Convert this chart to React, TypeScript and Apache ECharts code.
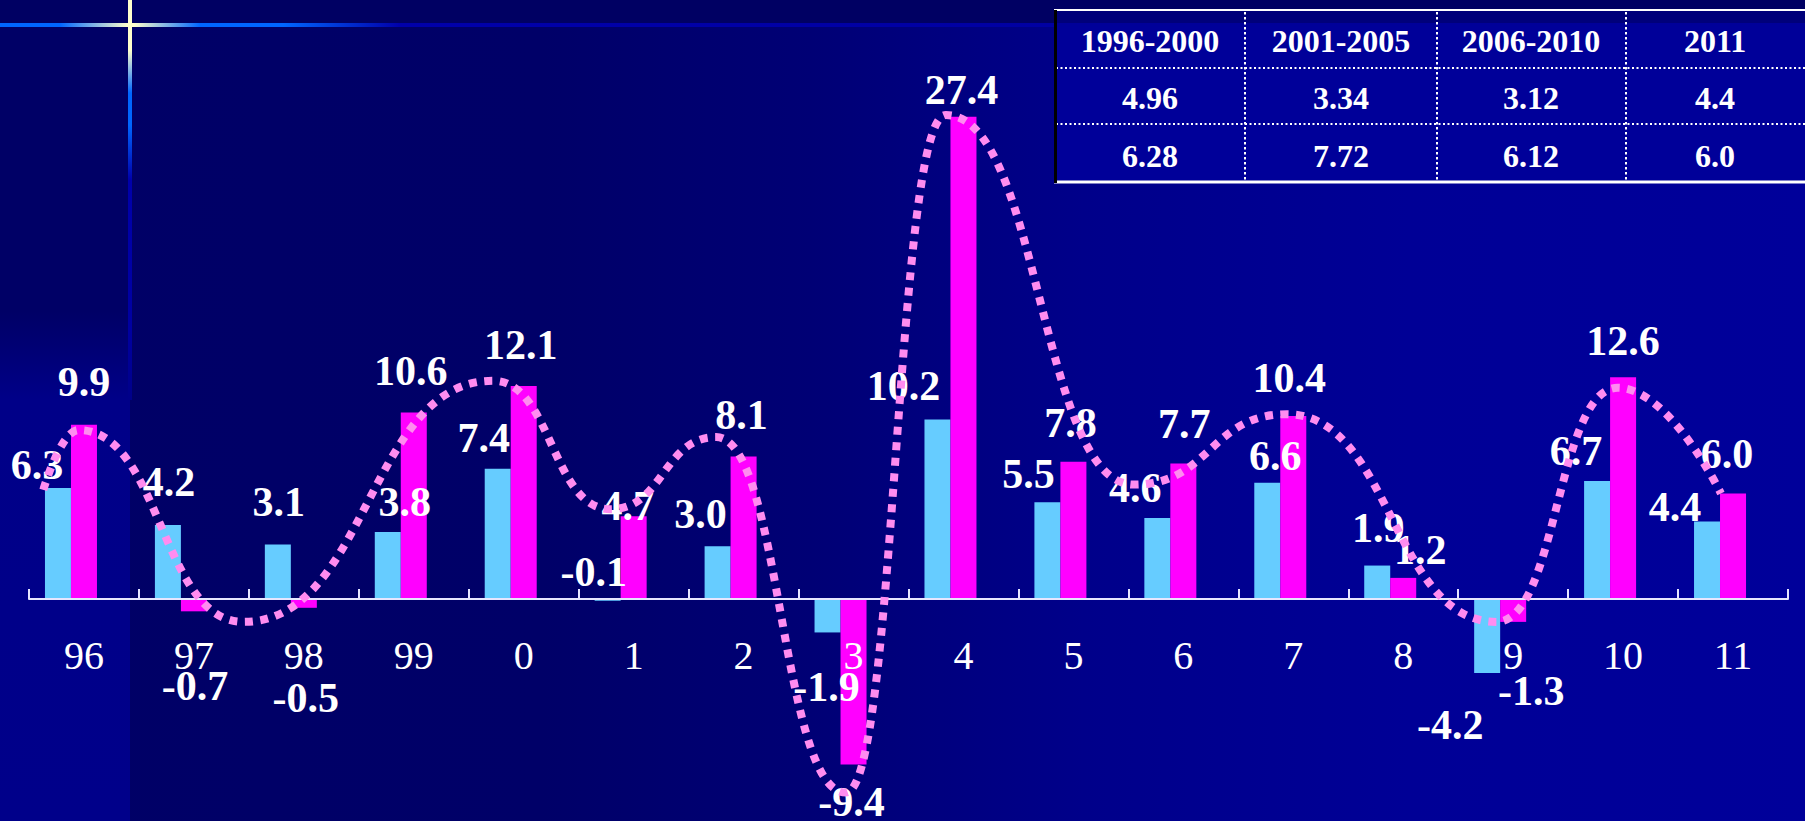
import { useEffect, useRef } from 'react';
import * as echarts from 'echarts';

// Years on the category axis
const years = ['96', '97', '98', '99', '0', '1', '2', '3', '4', '5', '6', '7', '8', '9', '10', '11'];
// Light-blue bars
const blueValues = [6.3, 4.2, 3.1, 3.8, 7.4, -0.1, 3.0, -1.9, 10.2, 5.5, 4.6, 6.6, 1.9, -4.2, 6.7, 4.4];
// Magenta bars
const pinkValues = [9.9, -0.7, -0.5, 10.6, 12.1, 4.7, 8.1, -9.4, 27.4, 7.8, 7.7, 10.4, 1.2, -1.3, 12.6, 6.0];
// Dotted trend curve: [position along the year axis, value] at its turning points
const trendPoints = [
  [-0.37, 6.2], [-0.05, 9.6], [1.45, -1.3], [3.72, 12.4], [4.79, 5.1], [5.75, 9.2],
  [6.93, -11.0], [7.84, 27.5], [9.55, 6.5], [10.94, 10.5], [12.85, -1.3], [13.95, 12.0], [14.89, 6.0],
];
// Period averages table
const periodHeaders = ['1996-2000', '2001-2005', '2006-2010', '2011'];
const periodBlue = ['4.96', '3.34', '3.12', '4.4'];
const periodPink = ['6.28', '7.72', '6.12', '6.0'];

// Hand-placed nudges for the value labels, in pixels [dx, dy]
const blueLabelShift = [
  [-21, 3], [1, -17], [1, -16], [17, -4], [-14, -5], [-14, -55], [-17, -6], [-1, 29],
  [-34, -7], [-19, -2], [-22, -4], [8, -1], [1, -12], [-37, 26], [-21, -4], [-32, 11],
];
const pinkLabelShift = [
  [0, -17], [1, 49], [2, 64], [-3, -15], [-3, -15], [-6, 16], [-2, -15], [-2, 12],
  [-2, -1], [-3, -13], [1, -13], [-4, -12], [17, -2], [18, 43], [0, -10], [-6, -13],
];

const W = 1805;
const H = 821;
const SERIF = "'Liberation Serif', 'Times New Roman', Times, serif";

// Plot frame
const GRID_TOP = 71;
const GRID_BOTTOM = 10.8;
const Y_MIN = -12;
const Y_MAX = 30;
// Where the zero line sits, so the year axis can be lifted onto it
const zeroY = GRID_TOP + (Y_MAX / (Y_MAX - Y_MIN)) * (H - GRID_TOP - GRID_BOTTOM);
const axisLift = zeroY - (H - GRID_BOTTOM);

function barData(values: number[], shifts: number[][]) {
  return values.map((v, i) => ({
    value: v,
    label: { position: v >= 0 ? 'top' : 'bottom', offset: shifts[i] },
  }));
}

function tableGraphics() {
  const left = 1054;
  const top = 10;
  const bottom = 182;
  const rowLines = [68, 124];
  const colLines = [1245, 1437, 1626];
  const colCenters = [1150, 1341, 1531, 1715];
  const rowCenters = [41, 98, 156];
  const els: any[] = [];
  els.push({ type: 'rect', z: 100, shape: { x: left, y: top, width: W - left, height: bottom - top }, style: { fill: '#000099' } });
  els.push({ type: 'rect', z: 100, shape: { x: left, y: top, width: W - left, height: 13 }, style: { fill: '#00007a' } });
  rowLines.forEach((y) =>
    els.push({ type: 'line', z: 101, shape: { x1: left + 2, y1: y, x2: W, y2: y }, style: { stroke: '#ffffff', lineWidth: 2, lineDash: [2, 2.5] } })
  );
  colLines.forEach((x) =>
    els.push({ type: 'line', z: 101, shape: { x1: x, y1: top + 2, x2: x, y2: bottom }, style: { stroke: '#ffffff', lineWidth: 2, lineDash: [2.5, 2.5] } })
  );
  els.push({ type: 'line', z: 102, shape: { x1: left, y1: top, x2: W, y2: top }, style: { stroke: '#ffffff', lineWidth: 2 } });
  els.push({ type: 'line', z: 102, shape: { x1: left, y1: bottom, x2: W, y2: bottom }, style: { stroke: '#ffffff', lineWidth: 3 } });
  els.push({ type: 'line', z: 102, shape: { x1: left + 1.5, y1: top, x2: left + 1.5, y2: bottom + 1 }, style: { stroke: '#000000', lineWidth: 3 } });
  const rows = [periodHeaders, periodBlue, periodPink];
  rows.forEach((row, r) =>
    row.forEach((txt, c) =>
      els.push({
        type: 'text', z: 103, x: colCenters[c], y: rowCenters[r],
        style: { text: txt, fill: '#ffffff', font: `bold 32px ${SERIF}`, align: 'center', verticalAlign: 'middle' },
      })
    )
  );
  return els;
}

function backdrop() {
  return [
    {
      type: 'rect', z: -10, shape: { x: 0, y: 25, width: W, height: H - 25 },
      style: {
        fill: {
          type: 'linear', x: 0, y: 0, x2: 1, y2: 0,
          colorStops: [
            { offset: 0, color: '#000066' }, { offset: 0.3, color: '#000068' }, { offset: 0.45, color: '#000075' },
            { offset: 0.6, color: '#00008a' }, { offset: 0.78, color: '#000096' }, { offset: 1, color: '#00009a' },
          ],
        },
      },
    },
    {
      type: 'rect', z: -10, shape: { x: 0, y: 25, width: 130, height: H - 25 },
      style: {
        fill: {
          type: 'linear', x: 0, y: 0, x2: 0, y2: 1,
          colorStops: [
            { offset: 0, color: '#000066' }, { offset: 0.36, color: '#000066' },
            { offset: 0.47, color: '#000088' }, { offset: 1, color: '#00008a' },
          ],
        },
      },
    },
    {
      type: 'rect', z: -9, shape: { x: 0, y: 23, width: W, height: 4 },
      style: {
        fill: {
          type: 'linear', global: true, x: 0, y: 0, x2: W, y2: 0,
          colorStops: [
            { offset: 0, color: '#0066ff' }, { offset: 60 / W, color: '#0066ff' }, { offset: 128 / W, color: '#ffffcc' },
            { offset: 134 / W, color: '#ffffcc' }, { offset: 200 / W, color: '#0066ff' }, { offset: 283 / W, color: '#0066ff' },
            { offset: 400 / W, color: '#0000aa' }, { offset: 1, color: '#000099' },
          ],
        },
      },
    },
    {
      type: 'rect', z: -8, shape: { x: 128, y: 0, width: 4, height: 400 },
      style: {
        fill: {
          type: 'linear', global: true, x: 0, y: 0, x2: 0, y2: 400,
          colorStops: [
            { offset: 0, color: '#ffffcc' }, { offset: 50 / 400, color: '#ffffcc' }, { offset: 93 / 400, color: '#0066ff' },
            { offset: 125 / 400, color: '#0066ff' }, { offset: 180 / 400, color: '#0000aa' }, { offset: 330 / 400, color: '#0000a0' },
            { offset: 1, color: '#000088' },
          ],
        },
      },
    },
  ];
}

export default function App() {
  const ref = useRef<HTMLDivElement>(null);

  useEffect(() => {
    if (!ref.current) return;
    const chart = echarts.init(ref.current, undefined, { renderer: 'svg' });
    const valueLabel = {
      show: true,
      color: '#ffffff',
      fontSize: 42,
      fontWeight: 'bold',
      fontFamily: SERIF,
      distance: 5,
      formatter: (p: any) => Number(p.value).toFixed(1),
    };
    chart.setOption({
      animation: false,
      backgroundColor: '#000063',
      grid: { left: 29, right: 17, top: GRID_TOP, bottom: GRID_BOTTOM, containLabel: false, outerBoundsMode: 'none' },
      xAxis: [
        {
          type: 'category',
          data: years,
          boundaryGap: true,
          position: 'bottom',
          offset: axisLift,
          z: 10,
          axisLine: { show: true, onZero: false, lineStyle: { color: '#e6e6ff', width: 2 } },
          axisTick: { show: true, inside: true, length: 10, lineStyle: { color: '#e6e6ff', width: 2 } },
          axisLabel: { color: '#ffffff', fontSize: 40, fontFamily: SERIF, margin: 36 },
          splitLine: { show: false },
        },
        { type: 'value', min: -0.5, max: 15.5, show: false },
      ],
      yAxis: { type: 'value', min: Y_MIN, max: Y_MAX, show: false },
      graphic: [...backdrop(), ...tableGraphics()],
      series: [
        {
          type: 'bar', name: 'blue', data: barData(blueValues, blueLabelShift),
          barWidth: 26, barGap: '0%', itemStyle: { color: '#66ccff' }, label: valueLabel,
        },
        {
          type: 'bar', name: 'pink', data: barData(pinkValues, pinkLabelShift),
          barWidth: 26, barGap: '0%', itemStyle: { color: '#ff00ff' }, label: valueLabel,
        },
        {
          type: 'bar', name: 'spacer', data: years.map(() => null),
          barWidth: 26, barGap: '0%',
        },
        {
          type: 'line', name: 'trend', xAxisIndex: 1, data: trendPoints, z: 12,
          smooth: 0.5, smoothMonotone: 'x', symbol: 'none',
          lineStyle: { color: '#ff8cf0', width: 8, type: [8, 7.5], cap: 'butt' },
        },
      ],
    });
    return () => chart.dispose();
  }, []);

  return <div ref={ref} style={{ position: 'fixed', left: 0, top: 0, width: W, height: H }} />;
}
